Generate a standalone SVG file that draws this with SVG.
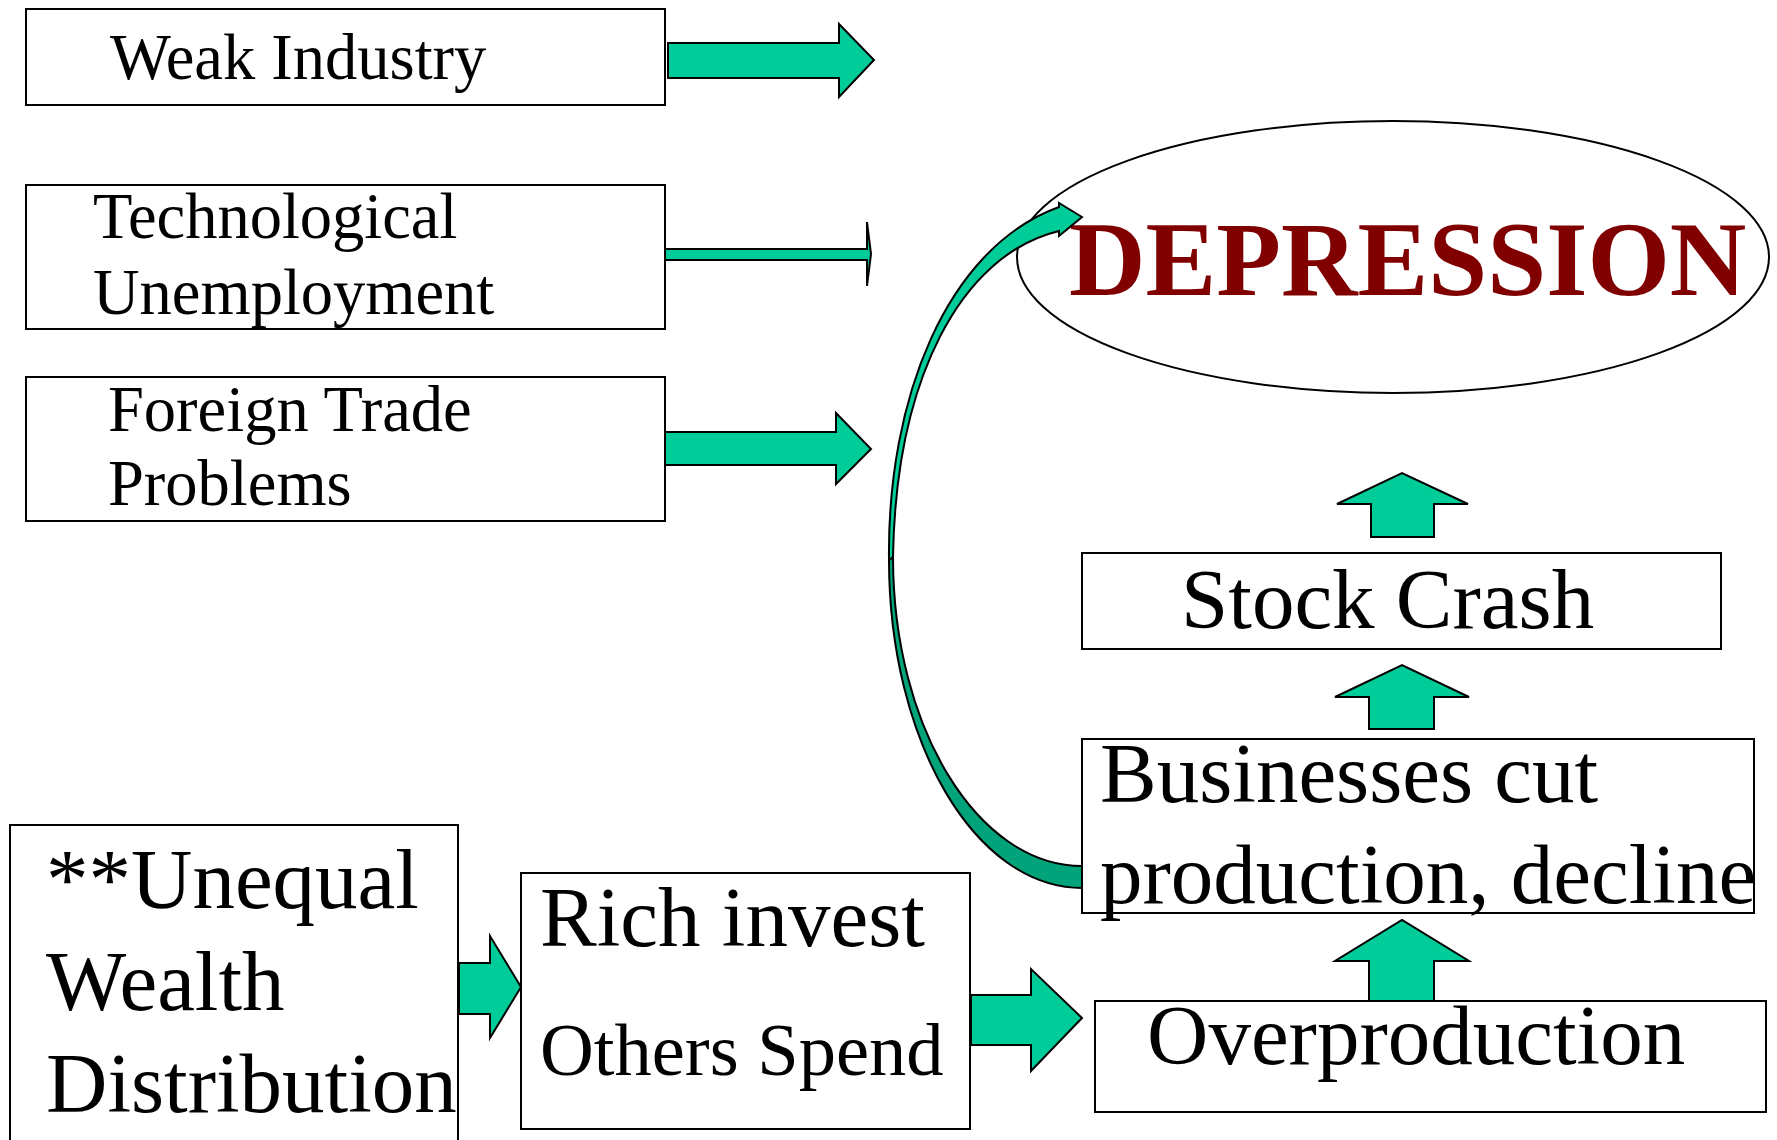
<svg xmlns="http://www.w3.org/2000/svg" width="1777" height="1140" viewBox="0 0 1777 1140">
<style>
.box{fill:#ffffff;stroke:#000000;stroke-width:2}
.t{font-family:"Liberation Serif","Times New Roman",serif;fill:#000000}
.s64{font-size:64.5px}
.s84{font-size:85px}
.arr{fill:#00CC99;stroke:#000000;stroke-width:2;stroke-linejoin:miter}
.dark{fill:#00A37A;stroke:#000000;stroke-width:2}
</style>
<rect width="1777" height="1140" fill="#ffffff"/>
<g id="weak-industry">
<rect class="box" x="26" y="9" width="639" height="96"/>
<text class="t s64" x="110" y="79">Weak Industry</text>
</g>
<g id="technological-unemployment">
<rect class="box" x="26" y="185" width="639" height="144"/>
<text class="t s64" x="93" y="238">Technological</text>
<text class="t s64" x="93" y="314">Unemployment</text>
</g>
<g id="foreign-trade">
<rect class="box" x="26" y="377" width="639" height="144"/>
<text class="t s64" x="108" y="431">Foreign Trade</text>
<text class="t s64" x="108" y="505">Problems</text>
</g>
<g id="depression">
<ellipse cx="1393" cy="257" rx="376" ry="136" fill="#ffffff" stroke="#000000" stroke-width="2"/>
<text class="t" x="1069" y="295" font-size="106" font-weight="bold" style="fill:#800000">DEPRESSION</text>
</g>
<g id="stock-crash">
<rect class="box" x="1082" y="553" width="639" height="96"/>
<text class="t s84" x="1181" y="628">Stock Crash</text>
</g>
<g id="businesses">
<rect class="box" x="1082" y="739" width="672" height="174"/>
<text class="t s84" x="1100" y="802">Businesses cut</text>
<text class="t s84" x="1100" y="903">production, decline</text>
</g>
<g id="overproduction">
<rect class="box" x="1095" y="1001" width="671" height="111"/>
<text class="t s84" x="1147" y="1064">Overproduction</text>
</g>
<g id="unequal-wealth">
<rect class="box" x="10" y="825" width="448" height="330"/>
<text class="t s84" x="46" y="908">**Unequal</text>
<text class="t s84" x="46" y="1010">Wealth</text>
<text class="t s84" x="46" y="1112">Distribution</text>
</g>
<g id="rich-invest">
<rect class="box" x="521" y="873" width="449" height="256"/>
<text class="t s84" x="540" y="946">Rich invest</text>
<text class="t" x="540" y="1075" font-size="74.5">Others Spend</text>
</g>
<g id="connectors">
<polygon class="arr" points="668,43 839,43 839,24 874,60 839,97 839,78 668,78"/>
<polygon class="arr" points="665,249 867,249 867,222 871,254 867,286 867,260 665,260"/>
<polygon class="arr" points="665,432 836,432 836,413 871,449 836,484 836,465 665,465"/>
<polygon class="arr" points="459,963 490,963 490,936 521,987 490,1038 490,1014 459,1014"/>
<polygon class="arr" points="971,995 1031,995 1031,969 1082,1018 1031,1071 1031,1045 971,1045"/>
<polygon class="arr" points="1371,537 1371,504 1337,504 1402,473 1468,504 1434,504 1434,537"/>
<polygon class="arr" points="1369,729 1369,697 1335,697 1402,665 1469,697 1434,697 1434,729"/>
<polygon class="arr" points="1369,1001 1369,961 1335,961 1402,920 1469,961 1434,961 1434,1001"/>
<path class="dark" d="M 893 557 C 893 728 978 866 1082 866 L 1082 888 C 975 888 889 741 889 560 Z"/>
<path class="arr" d="M 889 560 C 887 400 946 248 1059 207 L 1059 203 L 1082 217 L 1059 236 L 1059 231 C 960 255 896 380 893 557 Z"/>
</g>
</svg>
